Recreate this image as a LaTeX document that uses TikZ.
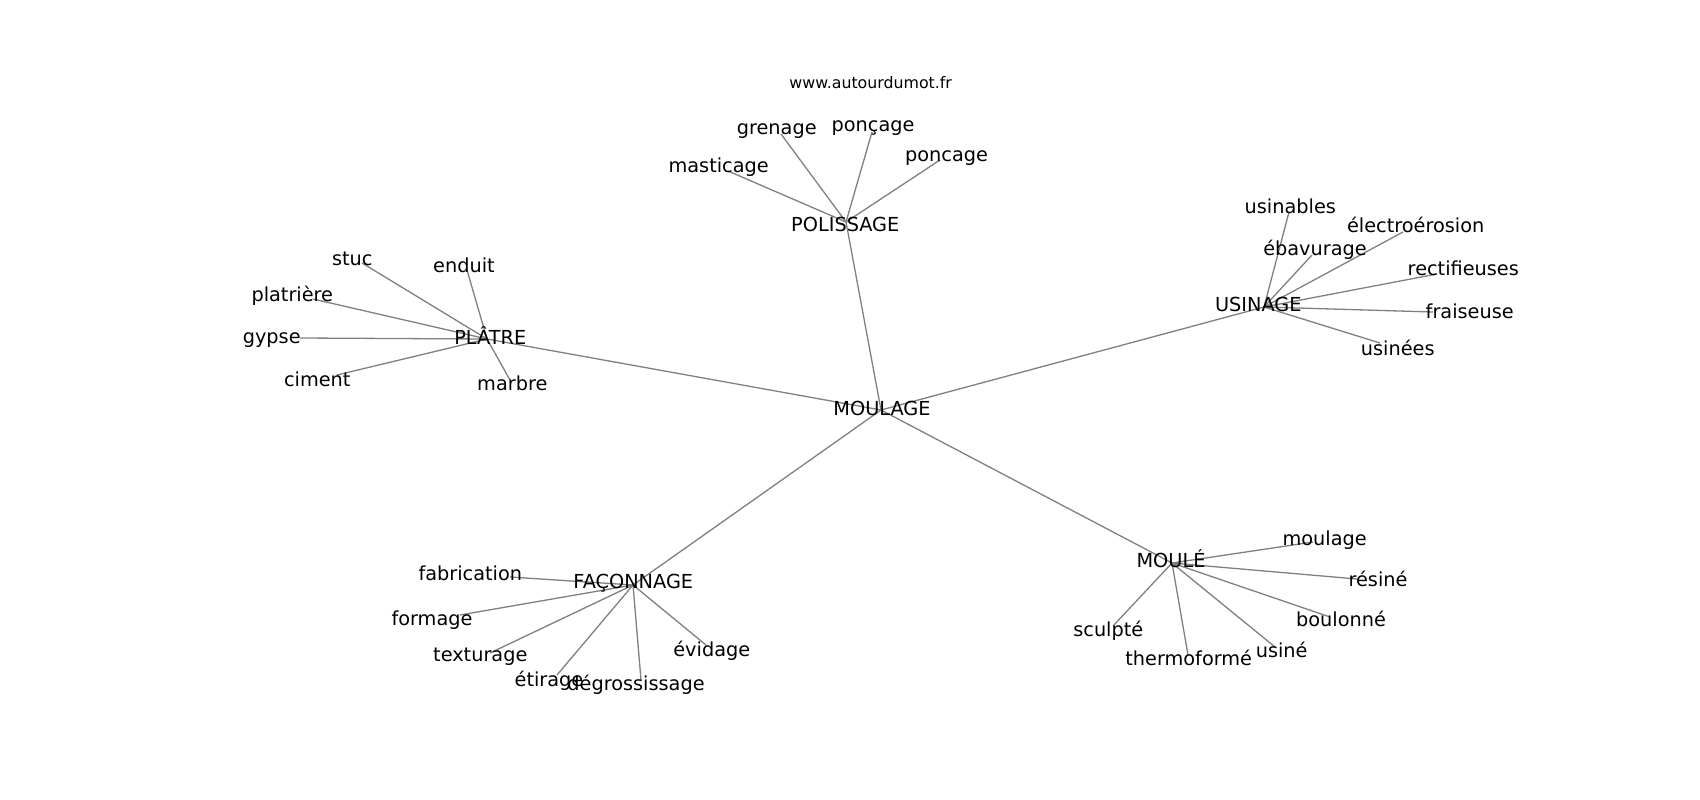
\documentclass[tikz,border=0pt]{standalone}
\usepackage{fontspec}
\setmainfont{DejaVu Sans}
\definecolor{edgegray}{RGB}{128,128,128}
\begin{document}
\begin{tikzpicture}[x=1pt,y=-1pt,
  lbl/.style={anchor=base,inner sep=0pt,font=\fontsize{19.3}{23}\selectfont},
  url/.style={anchor=base,inner sep=0pt,font=\fontsize{15.8}{19}\selectfont},
  edge/.style={draw=edgegray,line width=1.3pt}]
\useasboundingbox[fill=white] (0,0) rectangle (1700,800);
% node positions
\coordinate (cMOULAGE) at (881,410);
\coordinate (cPLATRE) at (487,339);
\coordinate (cPOLISSAGE) at (846,222);
\coordinate (cUSINAGE) at (1264,307);
\coordinate (cMOULE) at (1172,563);
\coordinate (cFACONNAGE) at (633,585);
\coordinate (cstuc) at (362,263);
\coordinate (cenduit) at (467,270);
\coordinate (cplatriere) at (313,299);
\coordinate (cgypse) at (300,338);
\coordinate (cciment) at (337,375);
\coordinate (cmarbre) at (510,380);
\coordinate (cgrenage) at (781,134);
\coordinate (cponcage1) at (872,132);
\coordinate (cponcage2) at (940,160);
\coordinate (cmasticage) at (728,171);
\coordinate (cusinables) at (1289,212);
\coordinate (celectro) at (1403,232);
\coordinate (cebavurage) at (1312,255);
\coordinate (crectif) at (1437,274);
\coordinate (cfraiseuse) at (1433,312);
\coordinate (cusinees) at (1380,343);
\coordinate (cmoulage) at (1313,542);
\coordinate (cresine) at (1357,579);
\coordinate (cboulonne) at (1330,617);
\coordinate (csculpte) at (1113,626);
\coordinate (cthermo) at (1188,655);
\coordinate (cusine) at (1275,647);
\coordinate (cfabrication) at (510,577);
\coordinate (cformage) at (460,615);
\coordinate (ctexturage) at (490,653);
\coordinate (cetirage) at (557,675);
\coordinate (cdegross) at (641,680);
\coordinate (cevidage) at (706,645);
% edges
\foreach \t in {cPLATRE,cPOLISSAGE,cUSINAGE,cMOULE,cFACONNAGE}
  \draw[edge] (cMOULAGE) -- (\t);
\foreach \t in {cstuc,cenduit,cplatriere,cgypse,cciment,cmarbre}
  \draw[edge] (cPLATRE) -- (\t);
\foreach \t in {cgrenage,cponcage1,cponcage2,cmasticage}
  \draw[edge] (cPOLISSAGE) -- (\t);
\foreach \t in {cusinables,celectro,cebavurage,crectif,cfraiseuse,cusinees}
  \draw[edge] (cUSINAGE) -- (\t);
\foreach \t in {cmoulage,cresine,cboulonne,csculpte,cthermo,cusine}
  \draw[edge] (cMOULE) -- (\t);
\foreach \t in {cfabrication,cformage,ctexturage,cetirage,cdegross,cevidage}
  \draw[edge] (cFACONNAGE) -- (\t);
% labels
\node[url] (url) at (870.7,88.3) {www.autourdumot.fr};
\node[lbl] (MOULAGE) at (882,415) {MOULAGE};
\node[lbl] (PLATRE) at (490.3,344) {PLÂTRE};
\node[lbl] (stuc) at (352.3,265.5) {stuc};
\node[lbl] (enduit) at (464,272.3) {enduit};
\node[lbl] (platriere) at (292.3,301.7) {platrière};
\node[lbl] (gypse) at (271.7,343.5) {gypse};
\node[lbl] (ciment) at (317.3,386) {ciment};
\node[lbl] (marbre) at (512.3,390.7) {marbre};
\node[lbl] (POLISSAGE) at (845.3,231) {POLISSAGE};
\node[lbl] (grenage) at (776.7,134) {grenage};
\node[lbl] (poncage1) at (873,131) {ponçage};
\node[lbl] (poncage2) at (946.5,161.7) {poncage};
\node[lbl] (masticage) at (718.7,172.3) {masticage};
\node[lbl] (USINAGE) at (1258.3,311) {USINAGE};
\node[lbl] (usinables) at (1290.3,213.3) {usinables};
\node[lbl] (electro) at (1415.7,232.3) {électroérosion};
\node[lbl] (ebavurage) at (1315,255) {ébavurage};
\node[lbl] (rectif) at (1463.3,275) {rectifieuses};
\node[lbl] (fraiseuse) at (1469.7,318.3) {fraiseuse};
\node[lbl] (usinees) at (1397.7,355) {usinées};
\node[lbl] (MOULE) at (1171,567.3) {MOULÉ};
\node[lbl] (moulage) at (1324.7,545) {moulage};
\node[lbl] (resine) at (1378,586.7) {résiné};
\node[lbl] (boulonne) at (1341,626.7) {boulonné};
\node[lbl] (sculpte) at (1108.3,636.7) {sculpté};
\node[lbl] (thermo) at (1188.7,665.7) {thermoformé};
\node[lbl] (usine) at (1281.7,657.3) {usiné};
\node[lbl] (FACONNAGE) at (633.3,588.3) {FAÇONNAGE};
\node[lbl] (fabrication) at (470.3,580) {fabrication};
\node[lbl] (formage) at (432,625) {formage};
\node[lbl] (texturage) at (480.3,661.7) {texturage};
\node[lbl] (etirage) at (549,686) {étirage};
\node[lbl] (degross) at (636,690) {dégrossissage};
\node[lbl] (evidage) at (711.8,656) {évidage};
\end{tikzpicture}
\end{document}
